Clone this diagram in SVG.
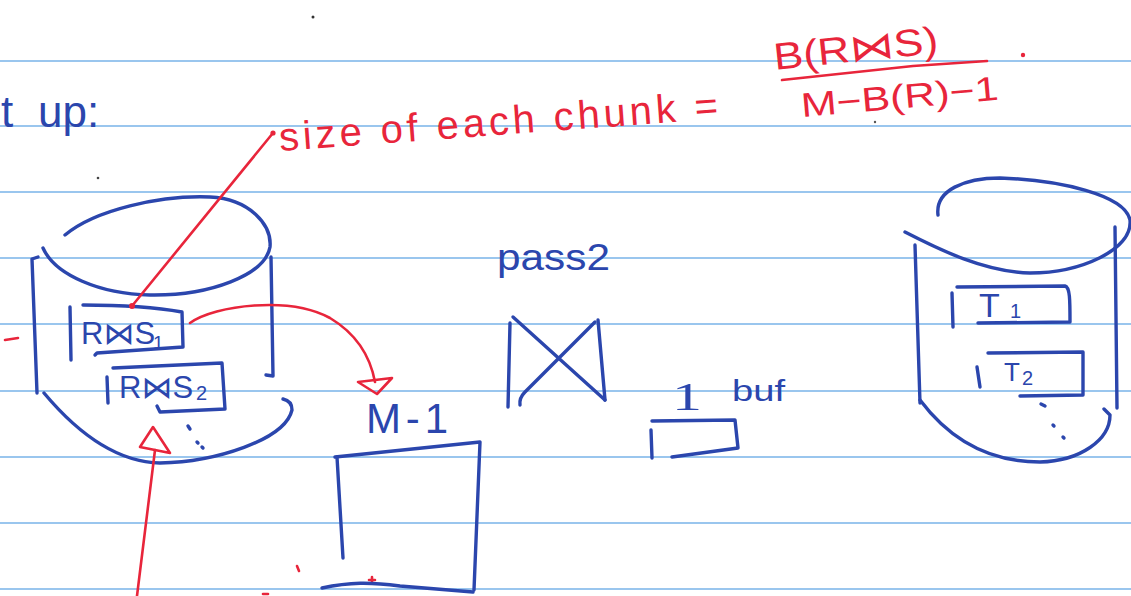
<svg xmlns="http://www.w3.org/2000/svg" width="1131" height="596" viewBox="0 0 1131 596">
<defs>
<style>
.rule{stroke:#9ac6ee;stroke-width:2.2}
.b{fill:none;stroke:#2b46ad;stroke-width:3.4;stroke-linecap:round;stroke-linejoin:round}
.r{fill:none;stroke:#e8253b;stroke-width:2.6;stroke-linecap:round;stroke-linejoin:round}
.bt{fill:#2b46ad;font-family:"Liberation Sans","DejaVu Sans",sans-serif}
.rt{fill:#e8253b;font-family:"Liberation Sans","DejaVu Sans",sans-serif}
.sym{font-family:"DejaVu Sans",sans-serif}
</style>
</defs>
<rect width="1131" height="596" fill="#ffffff"/>
<g id="rules">
<line class="rule" x1="0" y1="61" x2="1131" y2="61"/>
<line class="rule" x1="0" y1="126" x2="1131" y2="126"/>
<line class="rule" x1="0" y1="192" x2="1131" y2="192"/>
<line class="rule" x1="0" y1="258" x2="1131" y2="258"/>
<line class="rule" x1="0" y1="324" x2="1131" y2="324"/>
<line class="rule" x1="0" y1="391" x2="1131" y2="391"/>
<line class="rule" x1="0" y1="457" x2="1131" y2="457"/>
<line class="rule" x1="0" y1="523" x2="1131" y2="523"/>
<line class="rule" x1="0" y1="589" x2="1131" y2="589"/>
</g>
<g id="specks">
<circle cx="313" cy="17" r="1.5" fill="#333"/>
<circle cx="98" cy="178" r="1.3" fill="#444"/>
<circle cx="875" cy="122" r="1.2" fill="#555"/>
<path class="r" d="M5,340 L18,338" stroke-width="2"/>
<path class="r" d="M297,566 L299,571" stroke-width="1.6"/>
<path class="r" d="M369,580 L375,580 M372,577 L372,583" stroke-width="1.4"/>
<path class="r" d="M263,594 L268,594" stroke-width="1.4"/>
</g>
<g id="title">
<text class="bt" y="127" font-size="44"><tspan x="1">t</tspan><tspan x="38">up:</tspan></text>
</g>
<g id="chunk-label">
<text class="rt" x="280" y="151" font-size="40" transform="rotate(-4.2 280 151)" textLength="440" lengthAdjust="spacing">size of each chunk =</text>
</g>
<g id="fraction">
<text class="rt" x="775" y="70" font-size="38" transform="rotate(-6 775 70)" textLength="165" lengthAdjust="spacingAndGlyphs">B(R<tspan class="sym">⋈</tspan>S)</text>
<path class="r" d="M782,80 L913,66 L987,61" stroke-width="3"/>
<text class="rt" x="802" y="117" font-size="34" transform="rotate(-5 802 117)" textLength="198" lengthAdjust="spacingAndGlyphs">M−B(R)−1</text>
<circle cx="1023" cy="55" r="2.2" fill="#e8253b"/>
</g>
<g id="disk-left">
<path class="b" d="M65,235 C95,210 160,195 210,197 C250,199 272,225 270,247 C265,275 210,296 150,295 C100,294 55,275 43,248"/>
<path class="b" d="M38,257 L32,259 L37,393"/>
<path class="b" d="M44,393 C75,430 115,462 160,463 C215,462 285,440 292,410 Q292,401 283,399"/>
<path class="b" d="M271,257 L273,376 L266,375"/>
<path class="b" d="M188,426 L190,429 M197,442 L198,443 M202,447 L203,448"/>
</g>
<g id="chunk-1">
<path class="b" d="M70,307 L71,360"/>
<path class="b" d="M83,305 C120,305 160,308 182,312 L183,347 L97,353 L95,355"/>
<text class="bt" x="81" y="344" font-size="31">R<tspan class="sym">⋈</tspan>S</text>
<text class="bt" x="153" y="349" font-size="19">1</text>
</g>
<g id="chunk-2">
<path class="b" d="M107,377 L108,403"/>
<path class="b" d="M113,368 L222,363 L225,409 L160,412 L157,406"/>
<text class="bt" x="119" y="398" font-size="31">R<tspan class="sym">⋈</tspan>S</text>
<text class="bt" x="196" y="400" font-size="20">2</text>
</g>
<g id="memory">
<text class="bt" x="366" y="433" font-size="42" textLength="82" lengthAdjust="spacing">M-1</text>
<path class="b" d="M335,457 L480,442 L474,590"/>
<path class="b" d="M337,457 L343,558"/>
<path class="b" d="M322,588 C350,582 370,582 400,586 L473,592"/>
</g>
<g id="pass2">
<text class="bt" x="497" y="270" font-size="36" textLength="113" lengthAdjust="spacingAndGlyphs">pass2</text>
<path class="b" d="M510,323 L508,407"/>
<path class="b" d="M598,320 L605,400"/>
<path class="b" d="M513,317 L605,400"/>
<path class="b" d="M595,322 L525,392 Q519,398 520,405"/>
</g>
<g id="buffer">
<text class="bt" x="672" y="410" font-size="40" textLength="30" lengthAdjust="spacingAndGlyphs" style="font-family:'Liberation Serif',serif">1</text>
<text class="bt" x="732" y="401" font-size="30" textLength="53" lengthAdjust="spacingAndGlyphs">buf</text>
<path class="b" d="M651,430 L652,458"/>
<path class="b" d="M652,421 L735,420 L738,448 L672,457"/>
</g>
<g id="disk-right">
<path class="b" d="M938,215 C935,190 965,178 1000,178 C1060,180 1125,195 1130,220 C1133,250 1080,273 1030,273 C985,272 940,250 905,232"/>
<path class="b" d="M915,245 L920,403"/>
<path class="b" d="M920,400 C950,440 990,462 1040,462 C1080,461 1110,440 1110,415 L1104,409"/>
<path class="b" d="M1115,227 L1117,408"/>
<path class="b" d="M1041,404 L1045,406 M1053,425 L1054,426 M1063,437 L1064,438"/>
</g>
<g id="table-1">
<path class="b" d="M952,293 L953,327"/>
<path class="b" d="M957,287 L1065,286 C1070,287 1070,300 1070,322 L978,323"/>
<text class="bt" x="979" y="317" font-size="34">T</text>
<text class="bt" x="1010" y="318" font-size="20">1</text>
</g>
<g id="table-2">
<path class="b" d="M977,367 L980,387"/>
<path class="b" d="M988,353 L1083,352 L1083,395 L1020,396"/>
<text class="bt" x="1004" y="381" font-size="26">T</text>
<text class="bt" x="1022" y="385" font-size="20">2</text>
</g>
<g id="connectors">
<path class="r" d="M273,133 L132,306"/>
<circle cx="273" cy="133" r="2.6" fill="#e8253b"/>
<circle cx="132" cy="306" r="3" fill="#e8253b"/>
<path class="r" d="M190,323 C215,305 290,296 330,318 C355,333 370,355 375,382"/>
<path class="r" d="M358,382 L392,378 L377,394 Z" stroke-width="3.4"/>
<path class="r" d="M137,596 L155,450"/>
<path class="r" d="M140,447 L153,427 L170,453 Z" stroke-width="3"/>
</g>
</svg>
